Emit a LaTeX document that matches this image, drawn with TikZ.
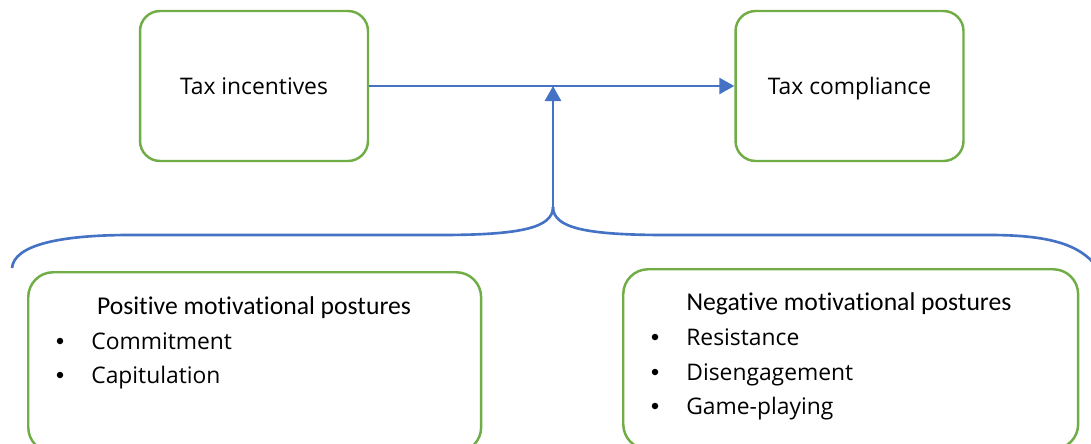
\documentclass[tikz,border=0pt]{standalone}
\usepackage{fontspec}
\setmainfont{Open Sans}
\newfontfamily\headfont[Ligatures=NoCommon,Contextuals=NoAlternate,RawFeature={-liga;-calt;-clig}]{Carlito}
\usetikzlibrary{arrows.meta}
\definecolor{linkblue}{HTML}{4472C4}
\definecolor{boxgreen}{HTML}{70AD47}

\begin{document}
\begin{tikzpicture}[x=0.02cm,y=-0.02cm,
	topbox/.style={draw=boxgreen,line width=1.4pt,rounded corners=0.4cm,minimum width=4.56cm,minimum height=3cm,text height=1.8ex,text depth=0pt,font=\fontsize{13}{15}\selectfont},
	postbox/.style={draw=boxgreen,line width=1.4pt,rounded corners=0.5cm,minimum height=3.6cm,anchor=north west},
	link/.style={draw=linkblue,line width=1.5pt},
	linktip/.style={-{Triangle[length=0.3cm,width=0.32cm]}},
	headtext/.style={anchor=base,font=\headfont\fontsize{14.6}{17}\selectfont},
	itemtext/.style={anchor=base west,font=\fontsize{13}{15}\selectfont,inner sep=0pt},
	dot/.style={circle,fill=black,inner sep=0pt,minimum size=0.13cm}]
	\clip (0,0) rectangle (1091,443);
	%top row
	\node[topbox] (inc) at (254,86) {Tax incentives};
	\node[topbox] (comp) at (849.5,86) {Tax compliance};
	\draw[link,linktip] (inc.east) -- (comp.west);
	%brace
	\coordinate (tip) at (553,207);
	\coordinate (braceL) at (12,268);
	\coordinate (braceR) at (1096,266);
	\coordinate (join) at (inc.east -| tip);
	\draw[link] (braceL) .. controls (14,245) and (60,235) .. (130,235) -- (440,235) .. controls (520,235) and (553,228) .. (tip);
	\draw[link] (tip) .. controls (553,228) and (586,235) .. (666,235) -- (990,235) .. controls (1050,235) and (1080,245) .. (braceR);
	\draw[link,linktip] (tip) -- (join);
	%positive postures
	\node[postbox,minimum width=9.06cm] (pos) at (27,271) {};
	\node[headtext] (posh) at (254,314) {Positive motivational postures};
	\node[dot] (posb1) at (60,341) {};
	\node[itemtext] (pos1) at (91,349) {Commitment};
	\node[dot] (posb2) at (60,375) {};
	\node[itemtext] (pos2) at (91,383) {Capitulation};
	%negative postures
	\node[postbox,minimum width=9.1cm] (neg) at (622,268) {};
	\node[headtext] (negh) at (849,310) {Negative motivational postures};
	\node[dot] (negb1) at (655,337) {};
	\node[itemtext] (neg1) at (686,345) {Resistance};
	\node[dot] (negb2) at (655,372) {};
	\node[itemtext] (neg2) at (686,380) {Disengagement};
	\node[dot] (negb3) at (655,406) {};
	\node[itemtext] (neg3) at (686,414) {Game-playing};
\end{tikzpicture}
\end{document}
